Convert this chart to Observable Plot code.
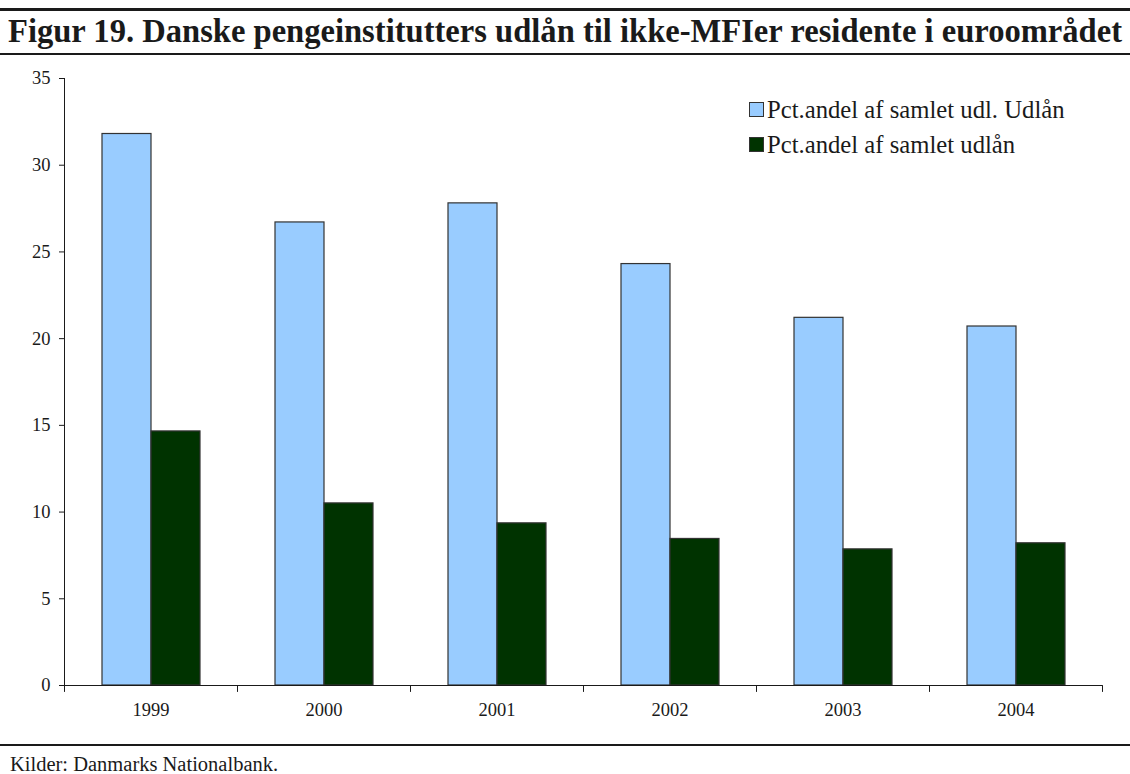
<!DOCTYPE html>
<html><head><meta charset="utf-8">
<script src="https://cdn.jsdelivr.net/npm/d3@7"></script>
<script src="https://cdn.jsdelivr.net/npm/@observablehq/plot@0.6"></script>
<style>
body{margin:0;background:#fff;width:1130px;height:774px;position:relative;overflow:hidden;font-family:"Liberation Serif","Times New Roman",serif;color:#1a1a1a;}
#topRule{position:absolute;left:0;top:8px;width:1130px;height:3px;background:#1a1a1a;}
#title{position:absolute;left:8px;top:11px;font-weight:bold;font-size:33px;white-space:nowrap;line-height:40px;transform-origin:0 50%;}
#midRule{position:absolute;left:0;top:53px;width:1130px;height:2px;background:#1a1a1a;}
#chart{position:absolute;left:0;top:57px;}
#legend{position:absolute;left:749px;top:92px;font-size:24.7px;}
.item{display:flex;align-items:center;height:35px;white-space:nowrap}
.sw{width:13px;height:13px;border:1.5px solid #333;margin-right:3px;box-sizing:content-box}
#botRule{position:absolute;left:0;top:744px;width:1130px;height:2px;background:#1a1a1a}
#caption{position:absolute;left:10px;top:752px;font-size:20.5px;line-height:24px;white-space:nowrap}
</style></head>
<body>
<div id="topRule"></div>
<div id="title">Figur 19. Danske pengeinstitutters udlån til ikke-MFIer residente i euroområdet</div>
<div id="midRule"></div>
<div id="chart"></div>
<div id="legend"></div>
<div id="botRule"></div>
<div id="caption">Kilder: Danmarks Nationalbank.</div>
<script>
const years = ["1999", "2000", "2001", "2002", "2003", "2004"];
const seriesNames = ["Pct.andel af samlet udl. Udlån", "Pct.andel af samlet udlån"];
const foreignShare = [31.8, 26.7, 27.8, 24.3, 21.2, 20.7];
const totalShare = [14.65, 10.5, 9.35, 8.45, 7.85, 8.2];
const seriesColors = ["#99CCFF", "#003300"];
const yTicks = [0, 5, 10, 15, 20, 25, 30, 35];

const data = [];
years.forEach((y, i) => {
  data.push({year: y, series: seriesNames[0], value: foreignShare[i]});
  data.push({year: y, series: seriesNames[1], value: totalShare[i]});
});

const tickShape = {draw(context, l) { context.moveTo(0, 0); context.lineTo(0, -l); }};

const chart = Plot.plot({
  width: 1130,
  height: 686,
  marginLeft: 61,
  marginRight: 26,
  marginTop: 21,
  marginBottom: 58,
  style: {fontFamily: "'Liberation Serif', 'Times New Roman', serif", fontSize: "18.5px", color: "#1a1a1a", background: "white"},
  fx: {domain: years, padding: 0, label: null, axis: "bottom", tickSize: 0, tickPadding: 17},
  x: {domain: seriesNames, paddingInner: 0, paddingOuter: 0.738, axis: null},
  y: {domain: [0, 35], ticks: yTicks, tickSize: 5, tickPadding: 9, label: null, line: true},
  color: {domain: seriesNames, range: seriesColors},
  marks: [
    Plot.barY(data, {fx: "year", x: "series", y: "value", fill: "series", stroke: "#333", strokeWidth: 1.2}),
    Plot.ruleY([0], {stroke: "#1a1a1a"}),
    Plot.vector(years, {fx: d => d, frameAnchor: "bottom-left", anchor: "start", length: 6, rotate: 180, stroke: "#1a1a1a", strokeWidth: 1, shape: tickShape}),
    Plot.vector(years.slice(-1), {fx: d => d, frameAnchor: "bottom-right", anchor: "start", length: 6, rotate: 180, stroke: "#1a1a1a", strokeWidth: 1, shape: tickShape})
  ]
});
document.getElementById("chart").appendChild(chart);

const legend = document.getElementById("legend");
seriesNames.forEach((name, i) => {
  const item = document.createElement("div");
  item.className = "item";
  const sw = document.createElement("span");
  sw.className = "sw";
  sw.style.background = seriesColors[i];
  const label = document.createElement("span");
  label.textContent = name;
  item.appendChild(sw);
  item.appendChild(label);
  legend.appendChild(item);
});

const title = document.getElementById("title");
const w = title.getBoundingClientRect().width;
title.style.transform = `scaleX(${1114 / w})`;
</script>
</body></html>
